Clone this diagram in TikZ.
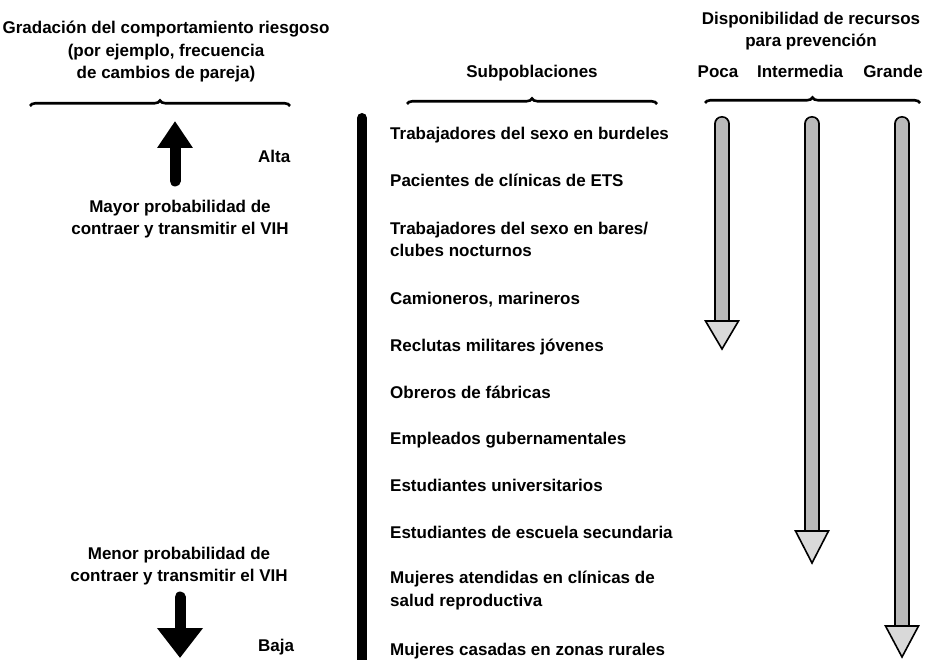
\documentclass[tikz,border=0pt]{standalone}
\usepackage{fontspec}
\setmainfont{Liberation Sans}
\usetikzlibrary{
  arrows.meta,
  positioning,
  decorations.pathreplacing
}

\begin{document}
\begin{tikzpicture}[
  x=1pt, y=-1pt,
  every node/.style={font=\fontsize{17}{22.5}\selectfont\bfseries, inner sep=0pt},
  heading/.style={align=center},
  subpop/.style={anchor=base west, align=left},
  curly/.style={decorate, decoration={brace, amplitude=5.5pt, aspect=0.5}, line width=2.6pt},
  riskarrow/.style={line width=11pt, line cap=round},
  shaftout/.style={line width=16pt, line cap=round},
  shaftin/.style={line width=12.5pt, line cap=round, draw=gray!55},
  tiphead/.style={draw, line width=1.6pt, fill=gray!30, line join=miter}
]
\useasboundingbox (0,0) rectangle (925,660);

% encabezados
\node[heading] (gradacion) at (166,52) {Gradación del comportamiento riesgoso\\(por ejemplo, frecuencia\\de cambios de pareja)};
\node[anchor=base] (subpob) at (532,78) {Subpoblaciones};
\node[heading] (recursos) at (811,31) {Disponibilidad de recursos\\para prevención};
\node[anchor=base] (poca) at (718,78) {Poca};
\node[anchor=base] (intermedia) at (800,78) {Intermedia};
\node[anchor=base] (grande) at (893,78) {Grande};

% llaves
\draw[curly] (30,106) -- (290,106);
\draw[curly] (407,104) -- (657,104);
\draw[curly] (705,103) -- (920,103);

% gradacion del riesgo
\node[anchor=base west] (alta) at (258,163) {Alta};
\node[heading] (mayor) at (180,219) {Mayor probabilidad de\\contraer y transmitir el VIH};
\node[heading] (menor) at (179,566) {Menor probabilidad de\\contraer y transmitir el VIH};
\node[anchor=base west] (baja) at (258,651) {Baja};
\coordinate (up tail) at (175,181);
\coordinate (up tip) at (175,121);
\coordinate (down tail) at (180,597);
\coordinate (down tip) at (180,658);
\draw[riskarrow, -{Triangle[width=34pt, length=27pt]}] (up tail) -- (up tip);
\draw[riskarrow, -{Triangle[width=44pt, length=30pt]}] (down tail) -- (down tip);

% barra vertical
\draw[line width=10pt, line cap=round] (362,118) -- (362,670);

% subpoblaciones
\node[subpop] (g1) at (390,140) {Trabajadores del sexo en burdeles};
\node[subpop] (g2) at (390,187) {Pacientes de clínicas de ETS};
\node[subpop, anchor=west] (g3) at (390,239.5) {Trabajadores del sexo en bares/\\clubes nocturnos};
\node[subpop] (g4) at (390,304) {Camioneros, marineros};
\node[subpop] (g5) at (390,351) {Reclutas militares jóvenes};
\node[subpop] (g6) at (390,398) {Obreros de fábricas};
\node[subpop] (g7) at (390,444) {Empleados gubernamentales};
\node[subpop] (g8) at (390,491) {Estudiantes universitarios};
\node[subpop] (g9) at (390,538) {Estudiantes de escuela secundaria};
\node[subpop, anchor=west] (g10) at (390,590.5) {Mujeres atendidas en clínicas de\\salud reproductiva};
\node[subpop] (g11) at (390,655) {Mujeres casadas en zonas rurales};

% flechas de recursos
\foreach \x/\yb/\yt in {722/321/349, 812/531/563, 902/626/657}{
  \draw[shaftout] (\x,124) -- (\x,\yb);
  \draw[shaftin] (\x,124) -- (\x,\yb);
  \filldraw[tiphead] (\x-16.5,\yb) -- (\x+16.5,\yb) -- (\x,\yt) -- cycle;
}
\end{tikzpicture}
\end{document}
